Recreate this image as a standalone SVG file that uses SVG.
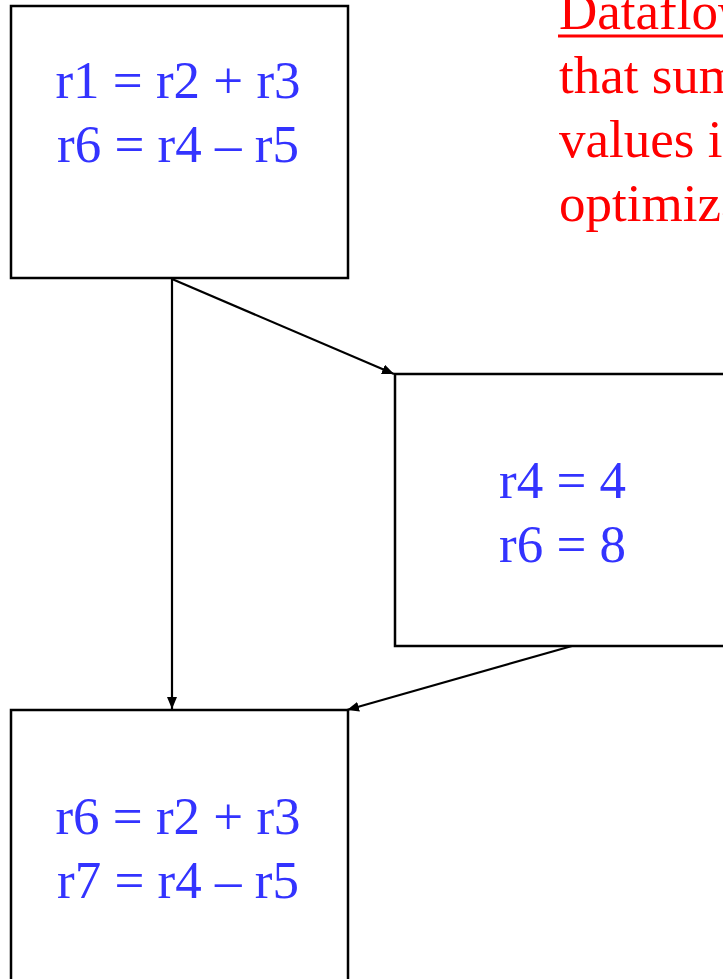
<svg xmlns="http://www.w3.org/2000/svg" width="723" height="979" viewBox="0 0 723 979">
<style>
.box{fill:#fff;stroke:#000;stroke-width:2.5}
.code{font-family:"Liberation Serif","Times New Roman",serif;font-size:53px;fill:#3333FF}
.note{font-family:"Liberation Serif","Times New Roman",serif;font-size:53px;fill:#FF0000}
.conn{stroke:#000;stroke-width:2.2;fill:none;marker-end:url(#arr)}
</style>
<defs>
<marker id="arr" viewBox="0 0 12 10" refX="12" refY="5" markerWidth="12" markerHeight="10" markerUnits="userSpaceOnUse" orient="auto">
<path d="M0,0 L12,5 L0,10 Z" fill="#000"/>
</marker>
</defs>
<rect width="723" height="979" fill="#fff"/>
<g id="note">
<text class="note" x="559" y="29">Dataflow</text>
<line x1="558" y1="36" x2="730" y2="36" stroke="#FF0000" stroke-width="3"/>
<text class="note" x="559" y="93">that summarizes</text>
<text class="note" x="559" y="157">values in</text>
<text class="note" x="559" y="221">optimization</text>
</g>
<g id="connectors">
<line class="conn" x1="172" y1="279" x2="172" y2="709"/>
<line class="conn" x1="172" y1="279" x2="394" y2="374"/>
<line class="conn" x1="572" y1="646" x2="347" y2="710"/>
</g>
<g id="block1">
<rect class="box" x="11" y="6" width="337" height="272"/>
<text class="code" x="178" y="98" text-anchor="middle">r1 = r2 + r3</text>
<text class="code" x="178" y="162" text-anchor="middle">r6 = r4 – r5</text>
</g>
<g id="block2">
<rect class="box" x="395" y="374" width="340" height="272"/>
<text class="code" x="499" y="498">r4 = 4</text>
<text class="code" x="499" y="562">r6 = 8</text>
</g>
<g id="block3">
<rect class="box" x="11" y="710" width="337" height="290"/>
<text class="code" x="178" y="834" text-anchor="middle">r6 = r2 + r3</text>
<text class="code" x="178" y="898" text-anchor="middle">r7 = r4 – r5</text>
</g>
</svg>
